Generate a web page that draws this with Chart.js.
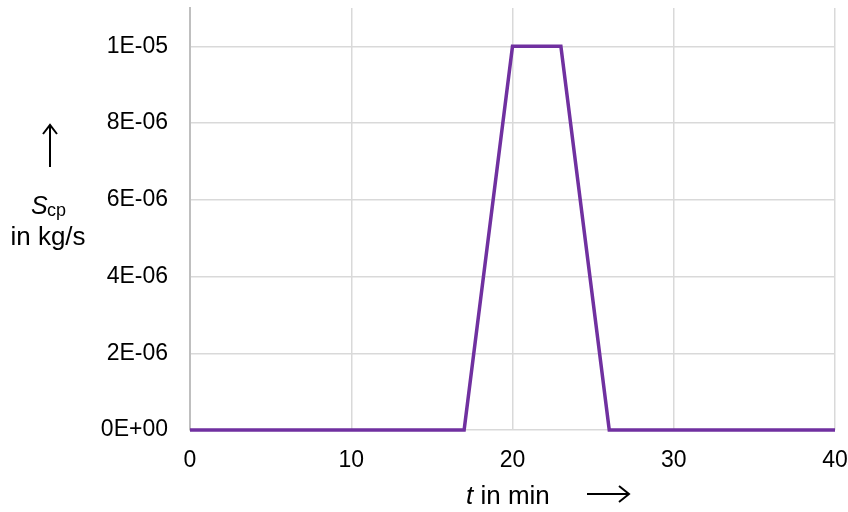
<!DOCTYPE html>
<html>
<head>
<meta charset="utf-8">
<script src="https://cdn.jsdelivr.net/npm/chart.js@4.4.0/dist/chart.umd.min.js"></script>
<style>
  html, body { margin: 0; padding: 0; background: #fff; }
  #wrap { width: 848px; height: 512px; }
</style>
</head>
<body>
<div id="wrap"><canvas id="chart"></canvas></div>
<script>
const timeMin = [0, 17, 20, 23, 26, 40];
const sourceKgS = [0, 0, 1e-5, 1e-5, 0, 0];
const xTicks = [0, 10, 20, 30, 40];
const yTicks = [0, 2e-6, 4e-6, 6e-6, 8e-6, 1e-5];

function sci(v) {
    if (Math.abs(v) < 1e-12) return '0E+00';
    const e = Math.floor(Math.log10(Math.abs(v)) + 1e-9);
    const m = Math.round(v / Math.pow(10, e));
    const sign = e < 0 ? '-' : '+';
    return m + 'E' + sign + String(Math.abs(e)).padStart(2, '0');
}

const FONT = '"Liberation Sans", Arial, sans-serif';

const titles = {
    id: 'titles',
    afterDraw(chart) {
        const ctx = chart.ctx;
        ctx.save();
        ctx.fillStyle = '#000';
        ctx.strokeStyle = '#000';
        ctx.lineWidth = 2;

        // y arrow
        ctx.beginPath();
        ctx.moveTo(50, 167); ctx.lineTo(50, 126);
        ctx.moveTo(43, 134); ctx.lineTo(50, 125); ctx.lineTo(57, 134);
        ctx.stroke();

        ctx.textBaseline = 'alphabetic';
        ctx.font = 'italic 25px ' + FONT;
        ctx.textAlign = 'left';
        ctx.fillText('S', 31, 214);
        ctx.font = '18px ' + FONT;
        ctx.fillText('cp', 47, 216);
        ctx.font = '26px ' + FONT;
        ctx.textAlign = 'center';
        ctx.fillText('in kg/s', 48, 245);

        // x title
        ctx.textAlign = 'left';
        ctx.font = 'italic 26px ' + FONT;
        ctx.fillText('t', 466, 504);
        const tw = ctx.measureText('t ').width;
        ctx.font = '26px ' + FONT;
        ctx.fillText('in min', 466 + tw, 504);

        ctx.beginPath();
        ctx.moveTo(587, 494); ctx.lineTo(628, 494);
        ctx.moveTo(619, 486); ctx.lineTo(629, 494); ctx.lineTo(619, 502);
        ctx.stroke();
        ctx.restore();
    }
};

new Chart(document.getElementById('chart'), {
    type: 'line',
    data: {
        datasets: [{
            data: timeMin.map((t, i) => ({ x: t, y: sourceKgS[i] })),
            borderColor: '#7030a0',
            borderWidth: 3.5,
            pointRadius: 0,
            tension: 0,
            fill: false,
            clip: false
        }]
    },
    options: {
        responsive: true,
        maintainAspectRatio: false,
        animation: false,
        layout: { padding: { top: 8, right: 13, left: 0, bottom: 0 } },
        plugins: { legend: { display: false }, tooltip: { enabled: false } },
        scales: {
            x: {
                type: 'linear',
                min: 0,
                max: 40,
                afterFit(s) {
                    s.height = 82;
                    s.paddingLeft = 0; s.paddingRight = 0;
                },
                afterBuildTicks(s) { s.ticks = xTicks.map(v => ({ value: v })); },
                grid: { color: '#d9d9d9', lineWidth: 1.5, drawTicks: false },
                border: { display: false },
                ticks: {
                    padding: 17,
                    color: '#000',
                    font: { family: FONT, size: 23 }
                }
            },
            y: {
                type: 'linear',
                min: 0,
                max: 1.1e-5,
                afterFit(s) {
                    s.width = 190;
                    s.paddingTop = 0; s.paddingBottom = 0;
                },
                afterBuildTicks(s) { s.ticks = yTicks.map(v => ({ value: v })); },
                grid: { color: '#d9d9d9', lineWidth: 1.5, drawTicks: false },
                border: { color: '#bfbfbf', width: 2 },
                ticks: {
                    padding: 22,
                    color: '#000',
                    font: { family: FONT, size: 23 },
                    callback: v => sci(v)
                }
            }
        }
    },
    plugins: [titles]
});
</script>
</body>
</html>
